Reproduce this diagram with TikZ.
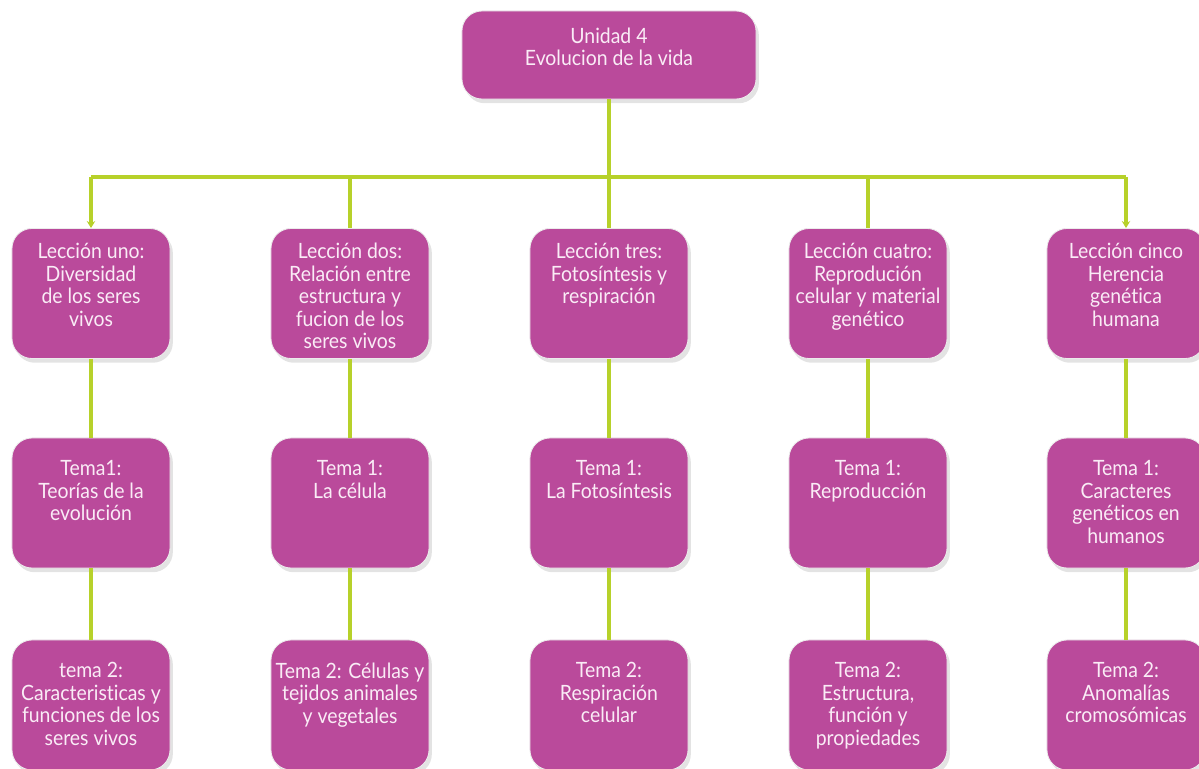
\documentclass[tikz,border=0pt]{standalone}
\usepackage{fontspec}
\setmainfont{Lato}[Ligatures=NoCommon, FakeStretch=0.92]
\usetikzlibrary{shadows,arrows.meta}
\definecolor{boxc}{RGB}{186,74,155}
\definecolor{linec}{RGB}{183,209,42}
\definecolor{txtc}{RGB}{250,236,246}
\tikzset{
  box/.style={rounded corners=0.5cm, fill=boxc, draw=white!85!gray, line width=0.6pt,
    minimum width=3.95cm, minimum height=3.25cm,
    drop shadow={opacity=0.22, shadow xshift=2pt, shadow yshift=-3pt}},
  txt/.style={anchor=north, align=center, text=txtc, inner sep=0pt,
    font=\fontsize{15}{16}\selectfont},
  link/.style={draw=linec, line width=2.2pt},
  tip/.style={-{Stealth[length=5pt,width=6pt]}},
}
\begin{document}
\begin{tikzpicture}[x=0.025cm, y=-0.025cm]
    \useasboundingbox (0,0) rectangle (1199,769);
    % unidad
    \node[box, minimum width=7.35cm, minimum height=2.2cm] (u) at (609,55) {};
    \node[txt, yshift=-0.42cm] (ux) at (u.north) {Unidad 4\\Evolucion de la vida};
    % lecciones
    \node[box] (l1) at (91,293.5) {};
    \node[box] (l2) at (350,293.5) {};
    \node[box] (l3) at (609,293.5) {};
    \node[box] (l4) at (868,293.5) {};
    \node[box] (l5) at (1126,293.5) {};
    \node[txt, yshift=-0.37cm] (l1x) at (l1.north) {Lección uno:\\Diversidad\\de los seres\\vivos};
    \node[txt, yshift=-0.37cm] (l2x) at (l2.north) {Lección dos:\\Relación entre\\estructura y\\fucion de los\\seres vivos};
    \node[txt, yshift=-0.37cm] (l3x) at (l3.north) {Lección tres:\\Fotosíntesis y\\respiración};
    \node[txt, yshift=-0.37cm] (l4x) at (l4.north) {Lección cuatro:\\Reprodución\\celular y material\\genético};
    \node[txt, yshift=-0.37cm] (l5x) at (l5.north) {Lección cinco\\Herencia\\genética\\humana};
    % tema 1
    \node[box] (a1) at (91,503) {};
    \node[box] (a2) at (350,503) {};
    \node[box] (a3) at (609,503) {};
    \node[box] (a4) at (868,503) {};
    \node[box] (a5) at (1126,503) {};
    \node[txt, yshift=-0.57cm] (a1x) at (a1.north) {Tema1:\\Teorías de la\\evolución};
    \node[txt, yshift=-0.57cm] (a2x) at (a2.north) {Tema 1:\\La célula};
    \node[txt, yshift=-0.57cm] (a3x) at (a3.north) {Tema 1:\\La Fotosíntesis};
    \node[txt, yshift=-0.57cm] (a4x) at (a4.north) {Tema 1:\\Reproducción};
    \node[txt, yshift=-0.57cm] (a5x) at (a5.north) {Tema 1:\\Caracteres\\genéticos en\\humanos};
    % tema 2
    \node[box] (b1) at (91,705) {};
    \node[box] (b2) at (350,705) {};
    \node[box] (b3) at (609,705) {};
    \node[box] (b4) at (868,705) {};
    \node[box] (b5) at (1126,705) {};
    \node[txt, yshift=-0.57cm] (b1x) at (b1.north) {tema 2:\\Caracteristicas y\\funciones de los\\seres vivos};
    \node[txt, yshift=-0.57cm] (b2x) at (b2.north) {Tema 2: Células y\\tejidos animales\\y vegetales};
    \node[txt, yshift=-0.57cm] (b3x) at (b3.north) {Tema 2:\\Respiración\\celular};
    \node[txt, yshift=-0.57cm] (b4x) at (b4.north) {Tema 2:\\Estructura,\\función y\\propiedades};
    \node[txt, yshift=-0.57cm] (b5x) at (b5.north) {Tema 2:\\Anomalías\\cromosómicas};
    % conectores
    \coordinate (h1) at (91,177);
    \coordinate (h5) at (1126,177);
    \draw[link] (h1) -- (h5)
        (u) -- (l3)
        (l2.north |- h1) -- (l2)
        (l4.north |- h1) -- (l4);
    \draw[link, tip] (h1) -- (l1.north);
    \draw[link, tip] (h5) -- (l5.north);
    \draw[link] (l1) -- (a1) -- (b1)
        (l2) -- (a2) -- (b2)
        (l3) -- (a3) -- (b3)
        (l4) -- (a4) -- (b4)
        (l5) -- (a5) -- (b5);
\end{tikzpicture}
\end{document}
